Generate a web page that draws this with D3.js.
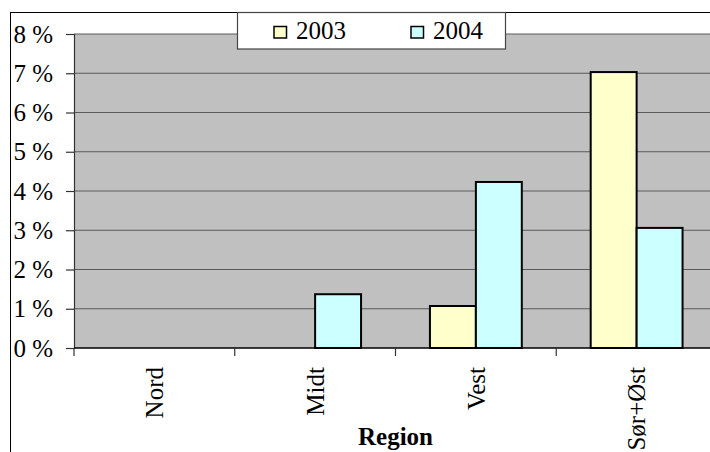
<!DOCTYPE html>
<html>
<head>
<meta charset="utf-8">
<script src="https://cdn.jsdelivr.net/npm/d3@7"></script>
<style>
  html, body { margin: 0; padding: 0; background: #fff; }
  svg { display: block; }
  svg text { font-family: 'Liberation Serif', 'Times New Roman', Tinos, 'DejaVu Serif', serif !important; fill: #000; }
</style>
</head>
<body>
<svg id="chart" width="710" height="452"></svg>
<script>
const categories = ["Nord", "Midt", "Vest", "Sør+Øst"];
const seriesNames = ["2003", "2004"];
const values2003 = [0, 0, 1.07, 7.03];
const values2004 = [0, 1.37, 4.23, 3.06];
const yTickValues = [0, 1, 2, 3, 4, 5, 6, 7, 8];
const seriesColors = ["#FFFFCC", "#CCFFFF"];
const xTitle = "Region";

const FONT = "'Liberation Serif', 'Times New Roman', Tinos, 'DejaVu Serif', serif";
const svg = d3.select("#chart");
const plot = { left: 74, top: 34, right: 717, bottom: 348 };

// outer chart border (extends beyond the visible window)
svg.append("rect")
  .attr("x", 10.5).attr("y", 12.5)
  .attr("width", 760).attr("height", 500)
  .attr("fill", "#fff").attr("stroke", "#000").attr("stroke-width", 1);

const x = d3.scaleBand().domain(categories).range([plot.left, plot.right]).padding(0);
const y = d3.scaleLinear().domain([0, 8]).range([plot.bottom, plot.top]);

const cw = x.bandwidth();
const bw = cw / 3.5;
const x1 = d3.scaleBand().domain(seriesNames).range([bw * 0.75, cw - bw * 0.75]).padding(0);

// plot background
svg.append("rect")
  .attr("x", plot.left).attr("y", plot.top)
  .attr("width", plot.right - plot.left).attr("height", plot.bottom - plot.top)
  .attr("fill", "#C0C0C0");

// gridlines
svg.append("g").selectAll("line")
  .data(yTickValues.filter(d => d > 0))
  .join("line")
  .attr("x1", plot.left).attr("x2", plot.right)
  .attr("y1", d => y(d)).attr("y2", d => y(d))
  .attr("stroke", "#5a5a5a").attr("stroke-width", 1.2);

// y axis
const yAxis = d3.axisLeft(y).tickValues(yTickValues).tickFormat(d => d + " %").tickSize(8).tickPadding(13);
const gy = svg.append("g").attr("transform", `translate(${plot.left},0)`).call(yAxis)
  .attr("font-family", FONT).attr("font-size", 25);
gy.select(".domain").attr("stroke", "#333").attr("stroke-width", 1.2);
gy.selectAll(".tick line").attr("stroke", "#333").attr("stroke-width", 1.2);
gy.selectAll(".tick text").style("font-family", FONT).style("font-size", "25px").attr("fill", "#000");

// bars
const data = categories.map((c, i) => ({ c, vals: [values2003[i], values2004[i]] }));
const groups = svg.append("g").selectAll("g")
  .data(data).join("g")
  .attr("transform", d => `translate(${x(d.c)},0)`);
groups.selectAll("rect")
  .data(d => d.vals.map((v, j) => ({ s: seriesNames[j], v, j })).filter(e => e.v > 0))
  .join("rect")
  .attr("x", e => x1(e.s))
  .attr("width", x1.bandwidth())
  .attr("y", e => y(e.v))
  .attr("height", e => y(0) - y(e.v))
  .attr("fill", e => seriesColors[e.j])
  .attr("stroke", "#000").attr("stroke-width", 2);

// x axis line and boundary ticks
const boundaries = categories.map(c => x(c)).concat([x.range()[1]]);
svg.append("line")
  .attr("x1", plot.left).attr("x2", plot.right)
  .attr("y1", y(0)).attr("y2", y(0))
  .attr("stroke", "#000").attr("stroke-width", 1.5);
svg.append("g").selectAll("line")
  .data(boundaries).join("line")
  .attr("x1", d => d).attr("x2", d => d)
  .attr("y1", y(0)).attr("y2", y(0) + 8)
  .attr("stroke", "#333").attr("stroke-width", 1.2);

// x labels rotated
svg.append("g").selectAll("text")
  .data(categories).join("text")
  .attr("transform", d => `translate(${x(d) + cw / 2},367) rotate(-90)`)
  .attr("text-anchor", "end")
  .attr("dy", "0.35em")
  .style("font-family", FONT).style("font-size", "25px")
  .text(d => d);

// x title
svg.append("text")
  .attr("x", (plot.left + plot.right) / 2).attr("y", 445)
  .attr("text-anchor", "middle")
  .style("font-family", FONT).style("font-size", "25px").style("font-weight", "bold")
  .text(xTitle);

// legend
const lg = svg.append("g");
lg.append("rect")
  .attr("x", 237.5).attr("y", 12.5).attr("width", 268).attr("height", 36.5)
  .attr("fill", "#fff").attr("stroke", "#444").attr("stroke-width", 1.2);
const legendX = [274, 411];
seriesNames.forEach((s, i) => {
  lg.append("rect")
    .attr("x", legendX[i]).attr("y", 26.5).attr("width", 12.5).attr("height", 11.5)
    .attr("fill", seriesColors[i]).attr("stroke", "#000").attr("stroke-width", 1.5);
  lg.append("text")
    .attr("x", legendX[i] + 22).attr("y", 38.5)
    .style("font-family", FONT).style("font-size", "25px")
    .text(s);
});
</script>
</body>
</html>
